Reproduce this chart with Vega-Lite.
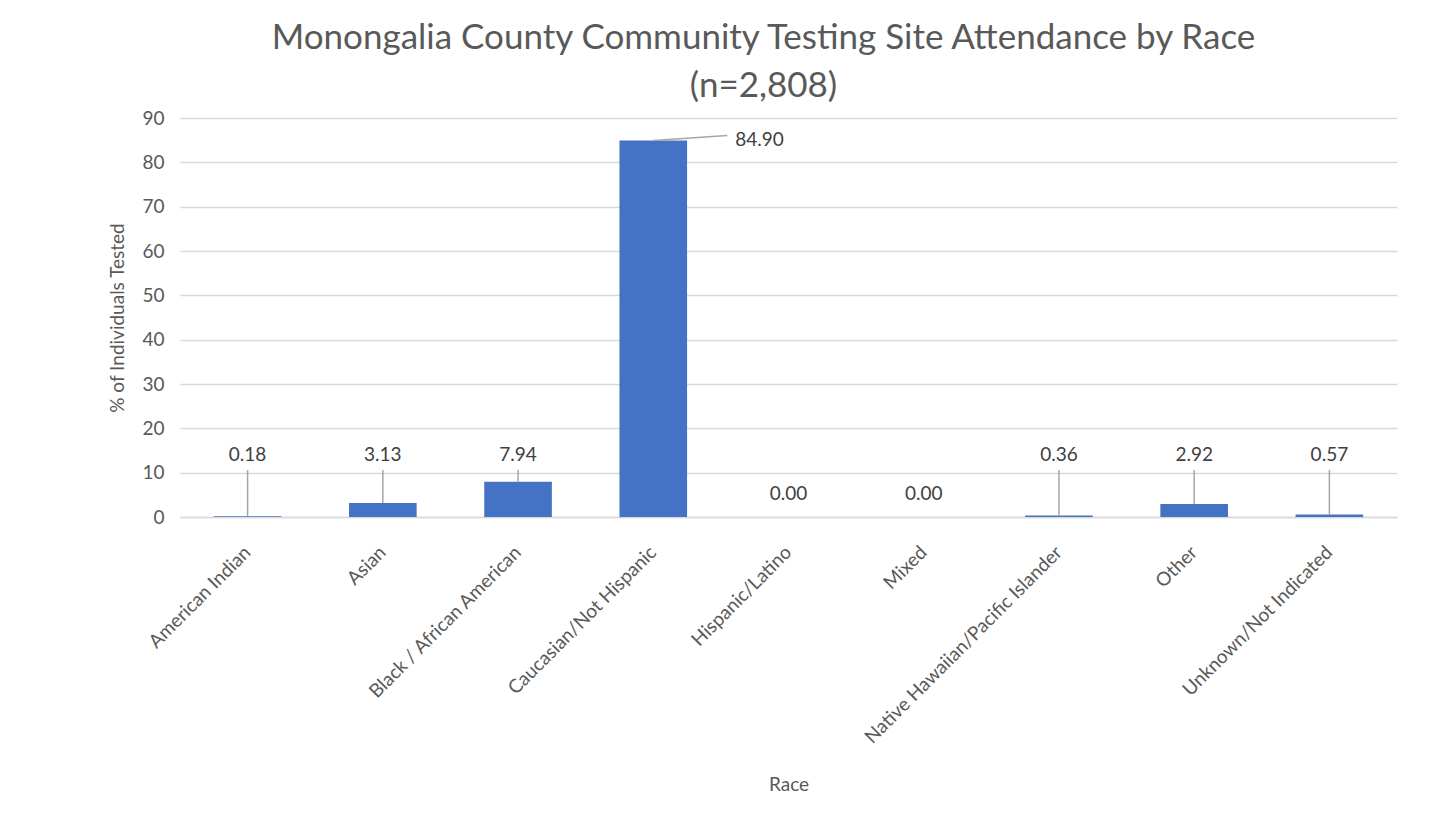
{
  "$schema": "https://vega.github.io/schema/vega-lite/v6.json",
  "width": 1217,
  "height": 399,
  "autosize": {"type": "none"},
  "padding": {"left": 180, "top": 118, "right": 45, "bottom": 299},
  "background": "white",
  "config": {
    "view": {"stroke": null},
    "font": "Lato",
    "title": {"font": "Lato", "fontWeight": "normal", "color": "#595959"},
    "axis": {"labelFont": "Lato", "titleFont": "Lato", "labelColor": "#595959", "titleColor": "#595959", "titleFontWeight": "normal"}
  },
  "title": {
    "text": ["Monongalia County Community Testing Site Attendance by Race", "(n=2,808)"],
    "fontSize": 35,
    "lineHeight": 48,
    "anchor": "middle",
    "dx": -25,
    "offset": 5
  },
  "data": {
    "values": [
      {"Race": "American Indian", "value": 0.18, "label": "0.18"},
      {"Race": "Asian", "value": 3.13, "label": "3.13"},
      {"Race": "Black / African American", "value": 7.94, "label": "7.94"},
      {"Race": "Caucasian/Not Hispanic", "value": 84.9, "label": "84.90"},
      {"Race": "Hispanic/Latino", "value": 0.0, "label": "0.00"},
      {"Race": "Mixed", "value": 0.0, "label": "0.00"},
      {"Race": "Native Hawaiian/Pacific Islander", "value": 0.36, "label": "0.36"},
      {"Race": "Other", "value": 2.92, "label": "2.92"},
      {"Race": "Unknown/Not Indicated", "value": 0.57, "label": "0.57"}
    ]
  },
  "encoding": {
    "x": {
      "field": "Race",
      "type": "nominal",
      "sort": null,
      "scale": {"paddingInner": 0.5, "paddingOuter": 0.25},
      "axis": {
        "title": "Race",
        "labelAngle": -45,
        "labelAlign": "right",
        "labelBaseline": "middle",
        "labelFontSize": 19,
        "labelPadding": 32,
        "labelLimit": 400,
        "titleFontSize": 19,
        "titlePadding": 58,
        "ticks": false,
        "domain": true,
        "domainColor": "#d9d9d9",
        "domainWidth": 1.5
      }
    }
  },
  "layer": [
    {
      "mark": {"type": "bar", "color": "#4472C4"},
      "encoding": {
        "y": {
          "field": "value",
          "type": "quantitative",
          "scale": {"domain": [0, 90]},
          "axis": {
            "title": "% of Individuals Tested",
            "titleFontSize": 19,
            "titlePadding": 14,
            "labelFontSize": 19,
            "labelPadding": 16,
            "values": [0, 10, 20, 30, 40, 50, 60, 70, 80, 90],
            "ticks": false,
            "domain": false,
            "grid": true,
            "gridColor": "#d9d9d9",
            "gridWidth": 1.5
          }
        }
      }
    },
    {
      "transform": [{"filter": "datum.value > 0 && datum.value < 50"}],
      "mark": {"type": "rule", "color": "#a6a6a6", "strokeWidth": 1.5},
      "encoding": {
        "y": {"field": "value", "type": "quantitative"},
        "y2": {"datum": 10.6}
      }
    },
    {
      "transform": [{"filter": "datum.value > 0 && datum.value < 50"}],
      "mark": {"type": "text", "fontSize": 19, "color": "#404040", "baseline": "middle"},
      "encoding": {
        "y": {"datum": 14},
        "text": {"field": "label"}
      }
    },
    {
      "transform": [{"filter": "datum.value == 0"}],
      "mark": {"type": "text", "fontSize": 19, "color": "#404040", "baseline": "middle"},
      "encoding": {
        "y": {"datum": 5.2},
        "text": {"field": "label"}
      }
    },
    {
      "transform": [{"filter": "datum.value > 50"}],
      "mark": {"type": "rule", "color": "#a6a6a6", "strokeWidth": 1.5, "x2Offset": 74, "y2Offset": -5},
      "encoding": {
        "y": {"field": "value", "type": "quantitative"},
        "x2": {"field": "Race"},
        "y2": {"field": "value"}
      }
    },
    {
      "transform": [{"filter": "datum.value > 50"}],
      "mark": {"type": "text", "fontSize": 19, "color": "#404040", "baseline": "middle", "align": "left", "dx": 82, "dy": -1},
      "encoding": {
        "y": {"field": "value", "type": "quantitative"},
        "text": {"field": "label"}
      }
    }
  ]
}
